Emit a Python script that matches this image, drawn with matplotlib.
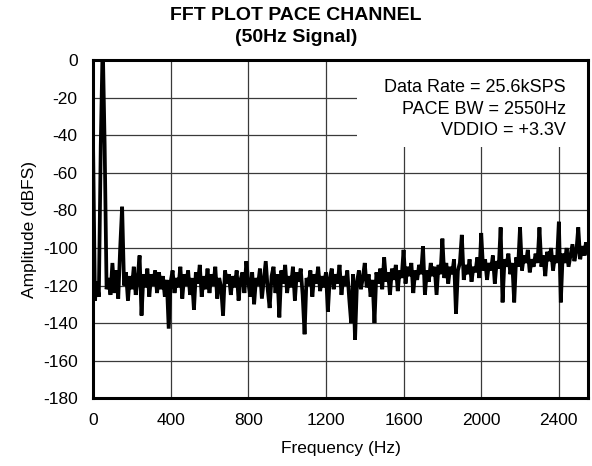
import numpy as np
import matplotlib
matplotlib.use("Agg")
from matplotlib import pyplot as plt
from matplotlib.patches import Rectangle

plt.rcParams['font.family'] = ['Liberation Sans', 'DejaVu Sans']
plt.rcParams['axes.unicode_minus'] = False

# spectrum, one value every 10 Hz from 0 to 2550 Hz
freq_hz = np.arange(0, 2560, 10)
amplitude_dbfs = [
    -42, -128, -118, -126, -45, 10, -45, -122, -116, -125,
    -108, -124, -112, -127, -100, -78, -120, -113, -128, -115,
    -122, -110, -125, -116, -104, -136, -114, -121, -111, -126,
    -114, -120, -112, -124, -113, -122, -115, -126, -117, -143,
    -118, -112, -124, -116, -121, -110, -127, -114, -120, -112,
    -125, -116, -133, -113, -119, -109, -126, -115, -122, -111,
    -124, -114, -120, -110, -127, -116, -121, -136, -112, -119,
    -114, -125, -115, -121, -112, -128, -117, -113, -124, -107,
    -118, -126, -113, -130, -116, -120, -111, -127, -117, -107,
    -122, -132, -115, -110, -124, -114, -137, -112, -119, -109,
    -124, -115, -121, -110, -128, -113, -118, -111, -125, -146,
    -116, -120, -112, -126, -114, -119, -110, -123, -115, -121,
    -113, -134, -116, -111, -122, -114, -119, -109, -125, -115,
    -120, -112, -127, -140, -114, -149, -118, -112, -122, -116,
    -108, -121, -114, -126, -117, -140, -113, -119, -111, -122,
    -105, -118, -113, -125, -111, -117, -109, -123, -112, -116,
    -101, -119, -110, -115, -108, -124, -112, -117, -109, -114,
    -99, -125, -112, -118, -108, -115, -110, -125, -109, -114,
    -95, -116, -108, -119, -110, -114, -106, -135, -112, -108,
    -93, -117, -109, -114, -106, -118, -110, -113, -105, -116,
    -92, -112, -106, -117, -108, -112, -104, -119, -107, -111,
    -89, -129, -106, -110, -103, -114, -108, -129, -105, -110,
    -89, -112, -104, -108, -101, -113, -106, -110, -103, -108,
    -89, -110, -104, -115, -102, -107, -100, -112, -104, -108,
    -86, -129, -103, -108, -100, -110, -104, -98, -107, -102,
    -89, -106, -99, -104, -97, -103,
]

x_ticks = [0, 400, 800, 1200, 1600, 2000, 2400]
y_ticks = [0, -20, -40, -60, -80, -100, -120, -140, -160, -180]
info_lines = ["Data Rate = 25.6kSPS", "PACE BW = 2550Hz", "VDDIO = +3.3V"]

fig = plt.figure(figsize=(5.92, 4.66), dpi=100)
ax = fig.add_axes([0.1571, 0.1459, 0.8361, 0.7243])

ax.plot(freq_hz, amplitude_dbfs, color='black', linewidth=2.7,
        solid_joinstyle='miter', zorder=3)

ax.set_xlim(0, 2550)
ax.set_ylim(-180, 0)
ax.set_xticks(x_ticks)
ax.set_yticks(y_ticks)
ax.set_axisbelow(True)
ax.grid(True, color='#3a3a3a', linewidth=0.9)
ax.tick_params(length=0, pad=11, labelsize=12.5)
for s in ax.spines.values():
    s.set_linewidth(2.2)
    s.set_zorder(4)

# white box behind the notes hides the grid
ax.add_patch(Rectangle((1360, -46), 1190, 46, facecolor='white',
                       edgecolor='none', zorder=2))
for i, line in enumerate(info_lines):
    ax.text(2435, -14.5 - 11.5 * i, line, ha='right', va='center',
            fontsize=13, zorder=5)

ax.set_xlabel("Frequency (Hz)", fontsize=12.5, labelpad=9)
ax.set_ylabel("Amplitude (dBFS)", fontsize=12.5, labelpad=4)

fig.text(0.5, 0.966, "FFT PLOT PACE CHANNEL", ha='center', va='center',
         fontsize=14, fontweight='bold')
fig.text(0.5, 0.919, "(50Hz Signal)", ha='center', va='center',
         fontsize=14, fontweight='bold')

fig.savefig("out.png", dpi=100)
